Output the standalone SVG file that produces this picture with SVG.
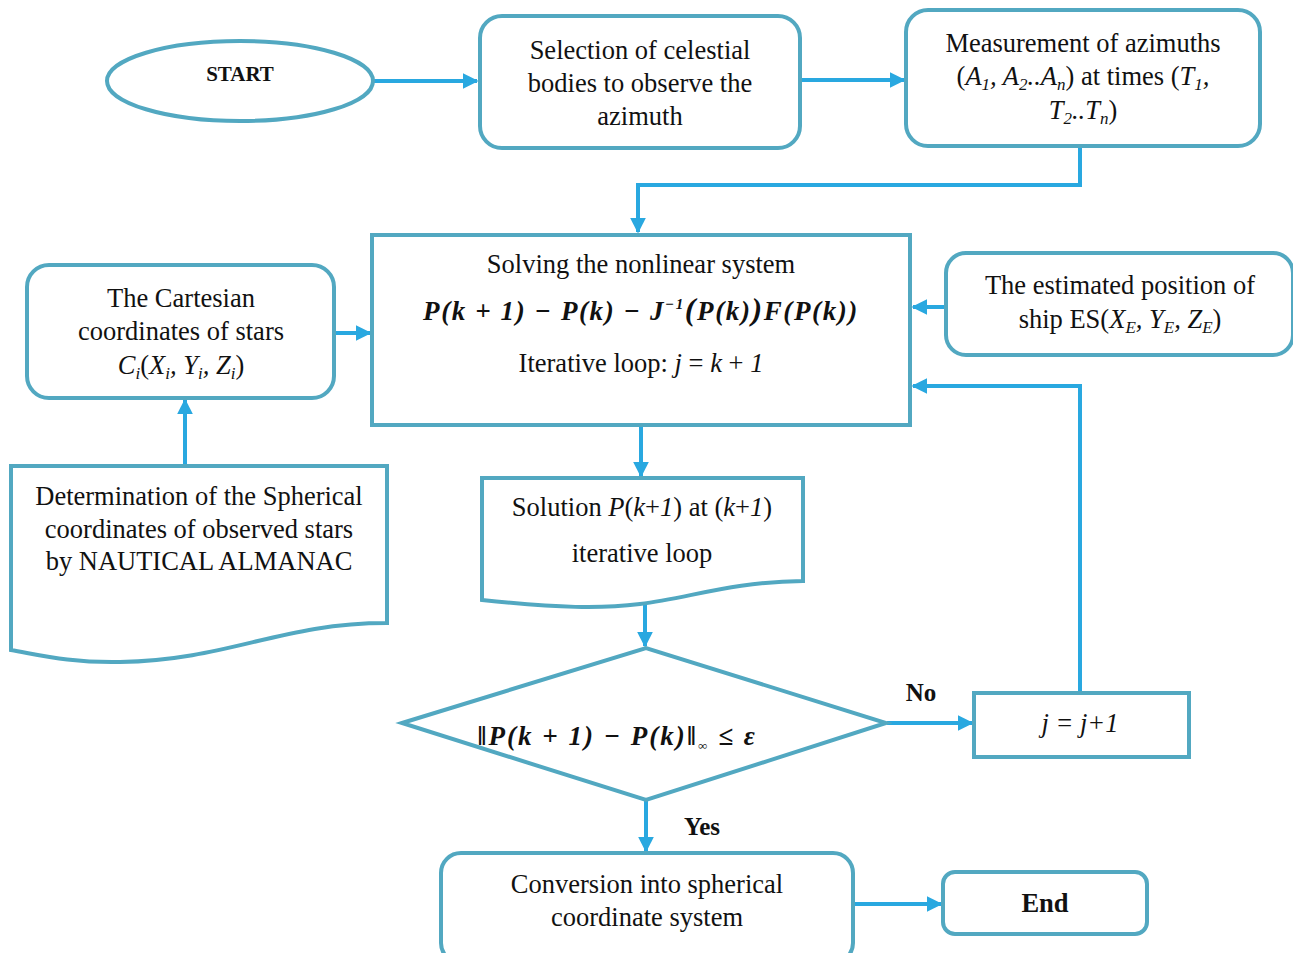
<svg xmlns="http://www.w3.org/2000/svg" width="1293" height="953" viewBox="0 0 1293 953">
<defs>
<marker id="ah" viewBox="0 0 10 10" refX="9" refY="5" markerWidth="4" markerHeight="4" orient="auto" markerUnits="strokeWidth">
<path d="M0,0 L10,5 L0,10 Z" fill="#29a8e0"/>
</marker>
</defs>
<style>
.n{fill:#fff;stroke:#52a8c1;stroke-width:4}
.c{fill:none;stroke:#29a8e0;stroke-width:4;marker-end:url(#ah)}
text{font-family:"Liberation Serif","Times New Roman",serif;font-size:26.5px;fill:#111;text-anchor:middle}
.b{font-weight:bold}
.i{font-style:italic}
.f{font-style:italic;font-weight:bold}
</style>
<rect width="1293" height="953" fill="#fff"/>
<g id="connectors">
<path class="c" d="M374,81 H477"/>
<path class="c" d="M800,80 H904"/>
<path class="c" d="M1080,147 V185 H638 V232"/>
<path class="c" d="M335,333 H370"/>
<path class="c" d="M946,307 H913"/>
<path class="c" d="M185,465 V400"/>
<path class="c" d="M641,426 V476"/>
<path class="c" d="M645,604 V646"/>
<path class="c" d="M887,723 H972"/>
<path class="c" d="M1080,692 V386 H913"/>
<path class="c" d="M646,801 V851"/>
<path class="c" d="M854,904 H941"/>
</g>
<g id="start">
<ellipse class="n" cx="240" cy="81" rx="133" ry="40"/>
<text class="b" x="240" y="81" style="font-size:21px">START</text>
</g>
<g id="selection">
<rect class="n" x="480" y="16" width="320" height="132" rx="22"/>
<text x="640" y="59">Selection of celestial</text>
<text x="640" y="92">bodies to observe the</text>
<text x="640" y="125">azimuth</text>
</g>
<g id="measurement">
<rect class="n" x="906" y="10" width="354" height="136" rx="22"/>
<text x="1083" y="52">Measurement of azimuths</text>
<text x="1083" y="85">(<tspan class="i">A<tspan font-size="17" dy="5">1</tspan><tspan dy="-5">, A</tspan><tspan font-size="17" dy="5">2</tspan><tspan dy="-5">..A</tspan><tspan font-size="17" dy="5">n</tspan></tspan><tspan dy="-5">) at times (</tspan><tspan class="i">T<tspan font-size="17" dy="5">1</tspan><tspan dy="-5">,</tspan></tspan></text>
<text x="1083" y="119"><tspan class="i">T<tspan font-size="17" dy="5">2</tspan><tspan dy="-5">..T</tspan><tspan font-size="17" dy="5">n</tspan></tspan><tspan dy="-5">)</tspan></text>
</g>
<g id="solve">
<rect class="n" x="372" y="235" width="538" height="190"/>
<text x="641" y="273">Solving the nonlinear system</text>
<text class="f" x="641" y="320" style="font-size:27px;letter-spacing:1.6px">P(k + 1) − P(k) − J<tspan font-size="15" dy="-11">−1</tspan><tspan dy="11" font-size="32">(</tspan>P(k)<tspan font-size="32">)</tspan>F(P(k))</text>
<text x="641" y="372">Iterative loop:  <tspan class="i">j</tspan> = <tspan class="i">k</tspan> + <tspan class="i">1</tspan></text>
</g>
<g id="cartesian">
<rect class="n" x="27" y="265" width="307" height="133" rx="22"/>
<text x="181" y="307">The Cartesian</text>
<text x="181" y="340">coordinates of stars</text>
<text class="i" x="181" y="374">C<tspan font-size="17" dy="5">i</tspan><tspan dy="-5" font-style="normal">(</tspan>X<tspan font-size="17" dy="5">i</tspan><tspan dy="-5">, Y</tspan><tspan font-size="17" dy="5">i</tspan><tspan dy="-5">, Z</tspan><tspan font-size="17" dy="5">i</tspan><tspan dy="-5" font-style="normal">)</tspan></text>
</g>
<g id="estimated">
<rect class="n" x="946" y="253" width="347" height="102" rx="20"/>
<text x="1120" y="294">The estimated position of</text>
<text x="1120" y="328">ship ES(<tspan class="i">X<tspan font-size="17" dy="5">E</tspan><tspan dy="-5">, Y</tspan><tspan font-size="17" dy="5">E</tspan><tspan dy="-5">, Z</tspan><tspan font-size="17" dy="5">E</tspan></tspan><tspan dy="-5">)</tspan></text>
</g>
<g id="determination">
<path class="n" d="M11,466 H387 V623 C280,623 230,660 120,662 C70,663 40,655 11,650 Z"/>
<text x="199" y="505">Determination of the Spherical</text>
<text x="199" y="538">coordinates of observed stars</text>
<text x="199" y="570">by NAUTICAL ALMANAC</text>
</g>
<g id="solution">
<path class="n" d="M482,478 H803 V581 C730,582 690,598 640,604 C600,609 560,608 482,600 Z"/>
<text x="642" y="516">Solution <tspan class="i">P</tspan>(<tspan class="i">k</tspan>+<tspan class="i">1</tspan>) at (<tspan class="i">k</tspan>+<tspan class="i">1</tspan>)</text>
<text x="642" y="562">iterative loop</text>
</g>
<g id="decision">
<path class="n" d="M402,723 L646,648 L886,723 L646,800 Z"/>
<text class="f" x="617" y="745" style="font-size:27px;letter-spacing:2px">‖P(k + 1) − P(k)‖<tspan font-size="13" dy="5">∞</tspan><tspan dy="-5"> ≤ ε</tspan></text>
</g>
<g id="increment">
<rect class="n" x="974" y="693" width="215" height="64"/>
<text class="i" x="1080" y="732">j = j+1</text>
</g>
<g id="conversion">
<rect class="n" x="441" y="853" width="412" height="110" rx="20"/>
<text x="647" y="893">Conversion into spherical</text>
<text x="647" y="926">coordinate system</text>
</g>
<g id="end">
<rect class="n" x="943" y="872" width="204" height="62" rx="12"/>
<text class="b" x="1045" y="912">End</text>
</g>
<g id="labels">
<text class="b" x="921" y="701" style="font-size:25px">No</text>
<text class="b" x="702" y="835" style="font-size:25px">Yes</text>
</g>
</svg>
